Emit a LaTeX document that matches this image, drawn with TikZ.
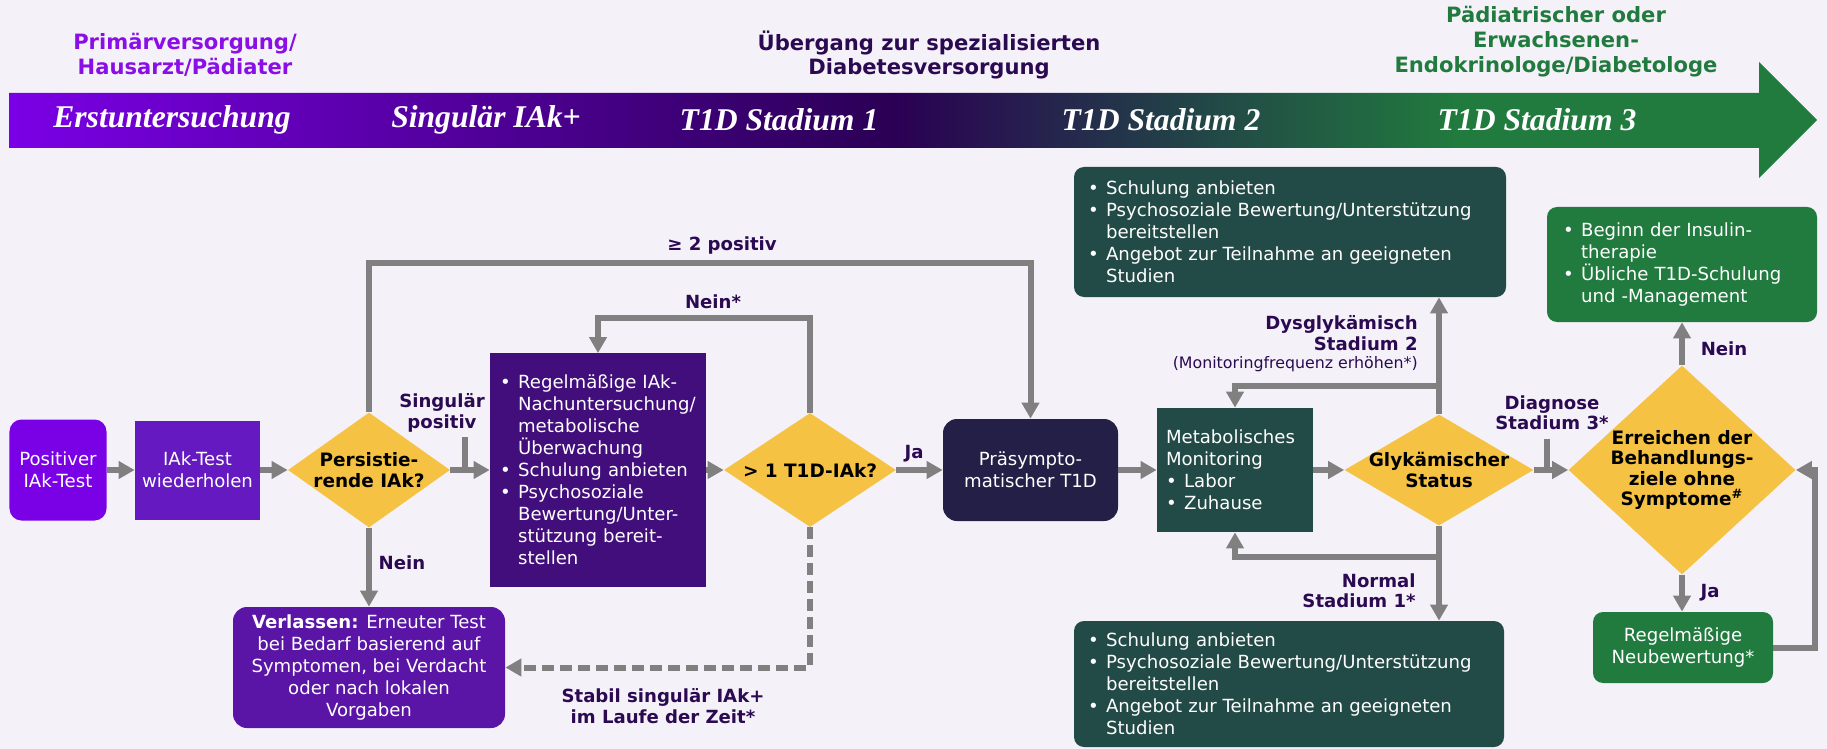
\documentclass[tikz,border=0pt]{standalone}
\usepackage{fontspec}
\setmainfont{DejaVu Sans}
\newfontfamily\bannerfont{Liberation Serif}
\usetikzlibrary{shapes.geometric,arrows.meta}

\definecolor{bgPanel}{HTML}{F4F2F8}
\definecolor{violetPos}{HTML}{7A00E6}
\definecolor{violetRep}{HTML}{6419C1}
\definecolor{violetReg}{HTML}{410E7B}
\definecolor{violetExit}{HTML}{5A14A6}
\definecolor{navyPre}{HTML}{231F47}
\definecolor{tealBox}{HTML}{224A46}
\definecolor{greenBox}{HTML}{217A3E}
\definecolor{decYellow}{HTML}{F5C243}
\definecolor{lblPurple}{HTML}{2B0A52}
\definecolor{connGray}{HTML}{808080}
\definecolor{primViolet}{HTML}{8A0FE6}
\definecolor{bannerA}{HTML}{7B00E6}
\definecolor{bannerB}{HTML}{2A0054}
\definecolor{bannerC}{HTML}{223F48}
\definecolor{bannerD}{HTML}{217A3E}

\pgfdeclarehorizontalshading{banner}{100bp}{color(0bp)=(bannerA); color(25bp)=(bannerA); color(49.5bp)=(bannerB); color(57bp)=(bannerC); color(65bp)=(bannerD); color(100bp)=(bannerD)}

\newcommand{\boxfont}{\fontsize{10.3}{12.5}\selectfont\hyphenpenalty=10000\exhyphenpenalty=10000}
\newcommand{\lblfont}{\bfseries\fontsize{10.3}{11.6}\selectfont}
\newcommand{\decfont}{\bfseries\fontsize{10.5}{11.6}\selectfont}
\newcommand{\headfont}{\bfseries\fontsize{12}{14.2}\selectfont}
\newcommand{\stagefont}{\bannerfont\bfseries\itshape\fontsize{18}{20}\selectfont}
\newcommand{\bul}{\makebox[1em][l]{\textbullet}}
\newcommand{\ind}{\hspace*{1em}}

\begin{document}
\begin{tikzpicture}[x=0.2mm, y=-0.2mm,
	box/.style = {inner sep=0pt, text=white, font=\boxfont, align=center},
	listbox/.style = {box, align=left},
	decision/.style = {shape=diamond, fill=decYellow, inner sep=0pt},
	dectext/.style = {font=\decfont, align=center, inner sep=0pt},
	lbl/.style = {font=\lblfont, text=lblPurple, align=center, inner sep=0pt},
	conn/.style = {draw=connGray, line width=1.2mm},
	arr/.style = {conn, -{Triangle[width=3.4mm,length=3.2mm]}},
	head/.style = {font=\headfont, align=center, inner sep=0pt},
	stage/.style = {font=\stagefont, text=white, inner sep=0pt}]

	\useasboundingbox (0,0) rectangle (1827,749);
	\fill[bgPanel] (0,0) rectangle (1827,749);

	% banner
	\shade[shading=banner] (9,93) -- (1759,93) -- (1759,62) -- (1817,120) -- (1759,178) -- (1759,148) -- (9,148) -- cycle;
	\node[stage] (st0) at (172,120) {Erstuntersuchung};
	\node[stage] (st1) at (486,120) {Singulär IAk+};
	\node[stage] (st2) at (779,120) {T1D Stadium 1};
	\node[stage] (st3) at (1161,120) {T1D Stadium 2};
	\node[stage] (st4) at (1537,120) {T1D Stadium 3};

	\node[head, text=primViolet] (hdPrim) at (185,55) {Primärversorgung/\\Hausarzt/Pädiater};
	\node[head, text=lblPurple] (hdTrans) at (929,55) {Übergang zur spezialisierten\\Diabetesversorgung};
	\node[head, text=greenBox] (hdSpec) at (1556,42) {Pädiatrischer oder\\Erwachsenen-\\Endokrinologe/Diabetologe};

	% screening row
	\node[box, fill=violetPos, rounded corners=2.4mm, minimum width=19.4mm, minimum height=20.2mm] (pos) at (58,470) {Positiver\\IAk-Test};
	\node[box, fill=violetRep, minimum width=25mm, minimum height=19.8mm] (rep) at (197.5,470) {IAk-Test\\wiederholen};
	\node[decision, minimum width=32.4mm, minimum height=23mm] (d1) at (369,470) {};
	\node[dectext] (d1t) at (d1) {Persistie-\\rende IAk?};
	\node[listbox, fill=violetReg, minimum width=43.2mm, minimum height=46.6mm, text width=39.2mm, inner xsep=2mm] (reg) at (598,470) {\bul Regelmäßige IAk-\\\ind Nachuntersuchung/\\\ind metabolische\\\ind Überwachung\\\bul Schulung anbieten\\\bul Psychosoziale\\\ind Bewertung/Unter-\\\ind stützung bereit-\\\ind stellen};
	\node[decision, minimum width=34.4mm, minimum height=22.8mm] (d2) at (810,470) {};
	\node[dectext] (d2t) at (d2) {> 1 T1D-IAk?};
	\node[box, fill=navyPre, rounded corners=2.8mm, minimum width=35mm, minimum height=20.4mm] (pre) at (1030.5,470) {Präsympto-\\matischer T1D};
	\node[box, fill=violetExit, rounded corners=2.8mm, minimum width=54.4mm, minimum height=24.2mm] (exit) at (369,667.5) {\textbf{Verlassen:} Erneuter Test\\bei Bedarf basierend auf\\Symptomen, bei Verdacht\\oder nach lokalen\\Vorgaben};

	% stage 2 monitoring
	\node[listbox, fill=tealBox, minimum width=31.2mm, minimum height=24.8mm, text width=27.6mm, inner xsep=1.8mm] (mon) at (1235,470) {Metabolisches\\Monitoring\\\bul Labor\\\bul Zuhause};
	\node[decision, minimum width=37.8mm, minimum height=22.2mm] (d3) at (1439,470) {};
	\node[dectext] (d3t) at (d3) {Glykämischer\\Status};
	\node[listbox, fill=tealBox, rounded corners=2mm, minimum width=86.4mm, minimum height=26mm, text width=80.8mm, inner xsep=2.8mm] (topT) at (1290,232) {\bul Schulung anbieten\\\bul Psychosoziale Bewertung/Unterstützung\\\ind bereitstellen\\\bul Angebot zur Teilnahme an geeigneten\\\ind Studien};
	\node[listbox, fill=tealBox, rounded corners=2mm, minimum width=86mm, minimum height=25.2mm, text width=80.4mm, inner xsep=2.8mm] (botT) at (1289,684) {\bul Schulung anbieten\\\bul Psychosoziale Bewertung/Unterstützung\\\ind bereitstellen\\\bul Angebot zur Teilnahme an geeigneten\\\ind Studien};

	% stage 3
	\node[decision, minimum width=45.4mm, minimum height=41.8mm] (d4) at (1682,470) {};
	\node[dectext] (d4t) at (d4) {Erreichen der\\Behandlungs-\\ziele ohne\\Symptome\textsuperscript{\#}};
	\node[listbox, fill=greenBox, rounded corners=2mm, minimum width=54mm, minimum height=23mm, text width=47.6mm, inner xsep=3.2mm] (topG) at (1682,264.5) {\bul Beginn der Insulin-\\\ind therapie\\\bul Übliche T1D-Schulung\\\ind und -Management};
	\node[box, fill=greenBox, rounded corners=2mm, minimum width=36mm, minimum height=14.2mm] (neu) at (1683,647.5) {Regelmäßige\\Neubewertung*};

	% connector labels
	\node[lbl] (lPos2) at (722,246) {≥ 2 positiv};
	\node[lbl] (lNeinStar) at (713,302) {Nein*};
	\node[lbl] (lSing) at (442,413) {Singulär\\positiv};
	\node[lbl] (lNein1) at (402,563) {Nein};
	\node[lbl] (lJa1) at (914,454) {Ja};
	\node[lbl] (lStabil) at (663,706) {Stabil singulär IAk+\\im Laufe der Zeit*};
	\node[lbl, anchor=east, align=right] (lDys) at (1418,333) {Dysglykämisch\\Stadium 2};
	\node[anchor=east, inner sep=0pt, text=lblPurple, font=\fontsize{9}{10}\selectfont] (lFreq) at (1418,364) {(Monitoringfrequenz erhöhen*)};
	\node[lbl, anchor=east, align=right] (lNormal) at (1416,591) {Normal\\Stadium 1*};
	\node[lbl] (lDiag) at (1552,413) {Diagnose\\Stadium 3*};
	\node[lbl] (lNein2) at (1724,349) {Nein};
	\node[lbl] (lJa2) at (1710,593) {Ja};

	\coordinate (railTop) at (0,263);
	\coordinate (railLoop) at (0,318);
	\coordinate (railUp) at (0,386);
	\coordinate (railDown) at (0,557);
	\coordinate (railRight) at (1815,0);
	\coordinate (tickA) at (465,437);
	\coordinate (tickB) at (1547,439);

	% connectors
	\draw[arr] (pos) -- (rep);
	\draw[arr] (rep) -- (d1);
	\draw[arr] (d1) -- (reg);
	\draw[conn] (tickA) -- (tickA |- d1.east);
	\draw[arr] (d1.north) |- (pre.north |- railTop) -- (pre.north);
	\draw[arr] (d1.south) -- (exit.north);
	\draw[arr] (reg) -- (d2);
	\draw[arr] (d2.north) |- (reg.north |- railLoop) -- (reg.north);
	\draw[arr] (d2) -- (pre);
	\draw[arr, dash pattern=on 2.4mm off 1.2mm] (d2.south) |- (exit.east);
	\draw[arr] (pre) -- (mon);
	\draw[arr] (mon) -- (d3);
	\draw[arr] (d3.north) -- (d3.north |- topT.south);
	\draw[arr] (d3.north |- railUp) -| (mon.north);
	\draw[arr] (d3.south) -- (d3.south |- botT.north);
	\draw[arr] (d3.south |- railDown) -| (mon.south);
	\draw[arr] (d3) -- (d4);
	\draw[conn] (tickB) -- (tickB |- d3.east);
	\draw[arr] (d4.north) -- (d4.north |- topG.south);
	\draw[arr] (d4.south) -- (d4.south |- neu.north);
	\draw[arr] (neu.east) -| (railRight |- d4.east) -- (d4.east);
\end{tikzpicture}
\end{document}
